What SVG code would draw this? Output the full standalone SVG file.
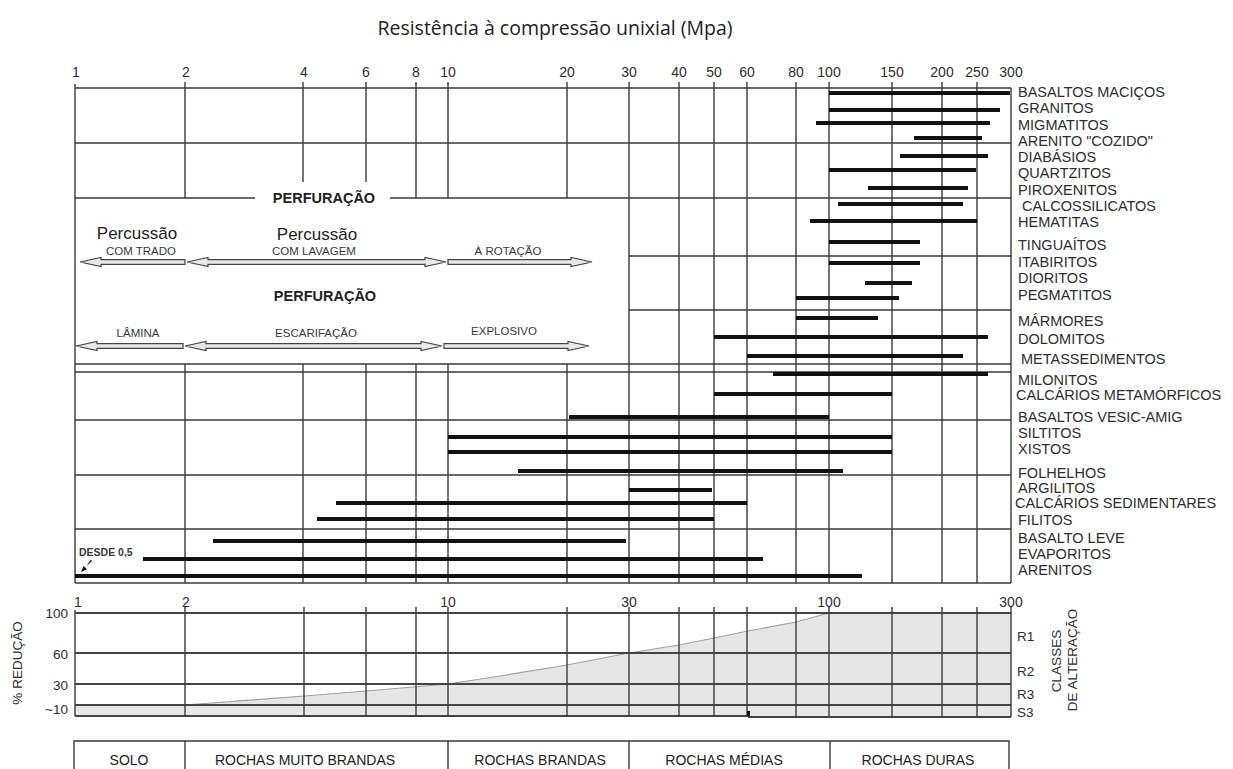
<svg xmlns="http://www.w3.org/2000/svg" width="1233" height="769" viewBox="0 0 1233 769">
<style>
.t{font-family:"Liberation Sans",Arial,sans-serif;fill:#2e2e2e}
.ax{font-size:14px;text-anchor:middle}
.lb{font-size:14.5px}
.g{stroke:#3a3a3a;stroke-width:1.4;fill:none}
.g2{stroke:#444;stroke-width:2;fill:none}
.bar{stroke:#111;stroke-width:4;stroke-linecap:butt}
.arr{fill:#e9e9e9;stroke:#444;stroke-width:1.2;stroke-linejoin:miter}
.big{font-size:17px;text-anchor:middle;fill:#222}
.sm{font-size:11.5px;text-anchor:middle;fill:#3a3a3a}
.pf{font-size:14.5px;font-weight:bold;text-anchor:middle;fill:#222}
.tb{font-size:14px;text-anchor:middle;fill:#222}
</style>
<rect width="1233" height="769" fill="#fff"/>
<text id="title" x="555" y="35" style="font-family:'Open Sans','Liberation Sans',sans-serif;font-size:19.5px;fill:#222" text-anchor="middle">Resistência à compressão unixial (Mpa)</text>

<g id="top-axis" class="t ax">
<text x="76" y="77">1</text><text x="186" y="77">2</text><text x="304" y="77">4</text><text x="366" y="77">6</text><text x="416" y="77">8</text><text x="448" y="77">10</text><text x="567" y="77">20</text><text x="629" y="77">30</text><text x="679" y="77">40</text><text x="714" y="77">50</text><text x="747" y="77">60</text><text x="796" y="77">80</text><text x="829" y="77">100</text><text x="892" y="77">150</text><text x="942" y="77">200</text><text x="977" y="77">250</text><text x="1011" y="77">300</text>
</g>

<g id="grid" class="g">
<path d="M75,88H1011M75,143H1011M75,198H255M390,198H1011M629,256H1011M629,310H1011M75,364H1011M75,372H1011M75,420H1011M75,475H1011M75,529H1011M75,583H1011"/>
<path d="M75,84V583M1011,88V583M185,82V198M185,364V583M303,82V182M303,364V583M366,82V182M366,364V583M416,82V198M416,364V583M448,82V198M448,364V583M567,82V198M567,364V583M629,82V583M679,82V583M714,82V583M747,82V583M796,82V583M829,82V583M892,82V583M942,82V583M977,82V583"/>
</g>

<g id="bars" class="bar">
<line x1="829" y1="93" x2="1010" y2="93"/>
<line x1="829" y1="110" x2="1000" y2="110"/>
<line x1="816" y1="123" x2="990" y2="123"/>
<line x1="914" y1="138" x2="982" y2="138"/>
<line x1="900" y1="156" x2="988" y2="156"/>
<line x1="829" y1="170" x2="976" y2="170"/>
<line x1="868" y1="188" x2="968" y2="188"/>
<line x1="838" y1="204" x2="963" y2="204"/>
<line x1="810" y1="221" x2="977" y2="221"/>
<line x1="829" y1="242" x2="920" y2="242"/>
<line x1="829" y1="263" x2="920" y2="263"/>
<line x1="865" y1="283" x2="912" y2="283"/>
<line x1="796" y1="298" x2="899" y2="298"/>
<line x1="796" y1="318" x2="878" y2="318"/>
<line x1="714" y1="337" x2="988" y2="337"/>
<line x1="747" y1="356" x2="963" y2="356"/>
<line x1="773" y1="374" x2="988" y2="374"/>
<line x1="714" y1="394" x2="892" y2="394"/>
<line x1="569" y1="417" x2="829" y2="417"/>
<line x1="448" y1="437" x2="892" y2="437"/>
<line x1="448" y1="452" x2="892" y2="452"/>
<line x1="518" y1="471" x2="843" y2="471"/>
<line x1="629" y1="490" x2="712" y2="490"/>
<line x1="336" y1="503" x2="747" y2="503"/>
<line x1="317" y1="519" x2="714" y2="519"/>
<line x1="213" y1="541" x2="626" y2="541"/>
<line x1="143" y1="559" x2="763" y2="559"/>
<line x1="75" y1="576" x2="862" y2="576"/>
</g>

<g id="rock-labels" class="t lb">
<text x="1018" y="97">BASALTOS MACIÇOS</text>
<text x="1018" y="113">GRANITOS</text>
<text x="1018" y="130">MIGMATITOS</text>
<text x="1018" y="146">ARENITO "COZIDO"</text>
<text x="1018" y="162">DIABÁSIOS</text>
<text x="1018" y="178">QUARTZITOS</text>
<text x="1018" y="195">PIROXENITOS</text>
<text x="1022" y="211">CALCOSSILICATOS</text>
<text x="1018" y="227">HEMATITAS</text>
<text x="1018" y="250">TINGUAÍTOS</text>
<text x="1018" y="267">ITABIRITOS</text>
<text x="1018" y="283">DIORITOS</text>
<text x="1018" y="300">PEGMATITOS</text>
<text x="1018" y="326">MÁRMORES</text>
<text x="1018" y="344">DOLOMITOS</text>
<text x="1021" y="364">METASSEDIMENTOS</text>
<text x="1018" y="385">MILONITOS</text>
<text x="1016" y="400">CALCÁRIOS METAMÓRFICOS</text>
<text x="1018" y="422">BASALTOS VESIC-AMIG</text>
<text x="1018" y="438">SILTITOS</text>
<text x="1018" y="454">XISTOS</text>
<text x="1018" y="478">FOLHELHOS</text>
<text x="1018" y="493">ARGILITOS</text>
<text x="1015" y="508">CALCÁRIOS SEDIMENTARES</text>
<text x="1018" y="525">FILITOS</text>
<text x="1018" y="543">BASALTO LEVE</text>
<text x="1018" y="559">EVAPORITOS</text>
<text x="1018" y="575">ARENITOS</text>
</g>

<g id="perfuracao" class="t">
<text class="pf" x="324" y="203">PERFURAÇÃO</text>
<text class="big" x="137" y="239">Percussão</text>
<text class="sm" x="141" y="255">COM TRADO</text>
<text class="big" x="317" y="240">Percussão</text>
<text class="sm" x="314" y="255">COM LAVAGEM</text>
<text class="sm" x="508" y="255">À ROTAÇÃO</text>
<text class="pf" x="325" y="301">PERFURAÇÃO</text>
<text class="sm" x="138" y="337">LÂMINA</text>
<text class="sm" x="316" y="337">ESCARIFAÇÃO</text>
<text class="sm" x="504" y="335">EXPLOSIVO</text>
<text x="79" y="556" style="font-size:10.5px;fill:#3a3a3a;font-weight:bold">DESDE 0,5</text>
</g>

<g id="connectors">
<path class="arr" d="M80,262L101,257.5V259.7H185V264.3H101V266.5Z"/>
<path class="arr" d="M187,262L208,257.5V259.7H425V257.5L446,262L425,266.5V264.3H208V266.5Z"/>
<path class="arr" d="M448,259.7H571V257.5L592,262L571,266.5V264.3H448Z"/>
<path class="arr" d="M76,346L97,341.5V343.7H183V348.3H97V350.5Z"/>
<path class="arr" d="M185,346L206,341.5V343.7H421V341.5L442,346L421,350.5V348.3H206V350.5Z"/>
<path class="arr" d="M444,343.7H568V341.5L589,346L568,350.5V348.3H444Z"/>
<path d="M92,561L85,567.5L87,569.2L81,572L83.5,566L85.3,567.7L90.8,559.8Z" fill="#111"/>
</g>

<g id="reduction-chart">
<path d="M75,705H185L304,696L366,691L448,684L500,676L567,665L629,653L679,645L714,638L748,631L796,622L829,613H1011V716H75Z" fill="#e6e6e6"/>
<polyline points="185,705 304,696 366,691 448,684 500,676 567,665 629,653 679,645 714,638 748,631 796,622 829,613" fill="none" stroke="#a0a0a0" stroke-width="1.2"/>
<path class="g2" d="M75,613H1011M75,653H1011M75,684H1011M75,705H1011M75,716H748M748,717H1011"/>
<path class="g" d="M75,610V716M1011,607V717M185,607V716M304,607V716M366,607V716M416,607V716M448,607V716M567,607V716M629,607V716M679,607V716M714,607V716M747,607V717M796,607V717M829,607V717M892,607V717M942,607V717M977,607V717"/>
<rect x="747" y="711" width="3" height="5" fill="#111"/>
<g class="t ax">
<text x="78" y="607">1</text><text x="186" y="607">2</text><text x="448" y="607">10</text><text x="629" y="607">30</text><text x="829" y="607">100</text><text x="1011" y="607">300</text>
</g>
<g class="t" style="font-size:13.5px" text-anchor="end">
<text x="68" y="618">100</text><text x="68" y="659">60</text><text x="68" y="690">30</text><text x="68" y="714">~10</text>
</g>
<g class="t" style="font-size:13.5px">
<text x="1017" y="641">R1</text><text x="1017" y="676">R2</text><text x="1017" y="699">R3</text><text x="1017" y="717">S3</text>
</g>
<text class="t" transform="translate(22,663) rotate(-90)" text-anchor="middle" style="font-size:13.5px">% REDUÇÃO</text>
<text class="t" transform="translate(1061,661) rotate(-90)" text-anchor="middle" style="font-size:13.5px">CLASSES</text>
<text class="t" transform="translate(1077,660) rotate(-90)" text-anchor="middle" style="font-size:13.5px">DE ALTERAÇÃO</text>
</g>

<g id="rock-classes">
<path class="g" d="M74,790V741H1009V790M185,741V790M448,741V790M629,741V790M830,741V790"/>
<g class="t tb">
<text x="129" y="765">SOLO</text>
<text x="305" y="765">ROCHAS MUITO BRANDAS</text>
<text x="540" y="765">ROCHAS BRANDAS</text>
<text x="724" y="765">ROCHAS MÉDIAS</text>
<text x="918" y="765">ROCHAS DURAS</text>
</g>
</g>
</svg>
